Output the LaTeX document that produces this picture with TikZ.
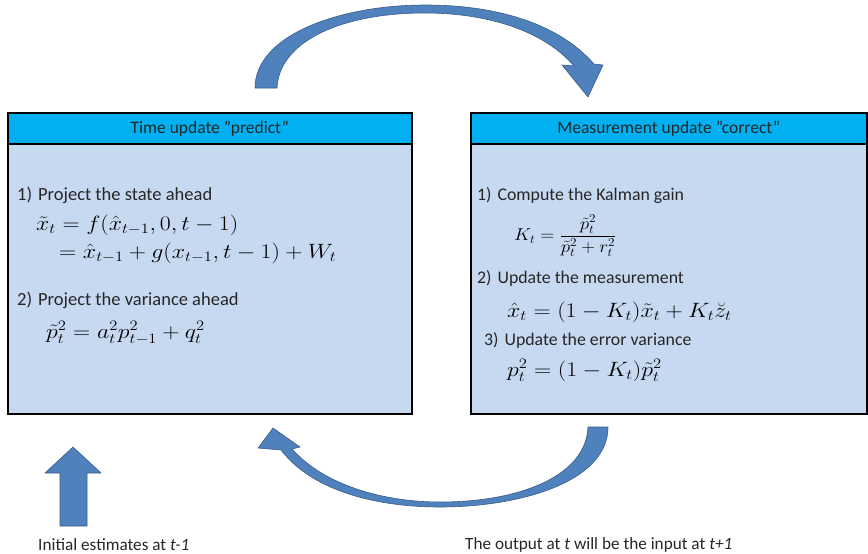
\documentclass[tikz,border=0pt]{standalone}
\usepackage{amsmath}
\usepackage{fontspec}
\setmainfont{Carlito}
\definecolor{headblue}{RGB}{0,176,240}
\definecolor{bodyblue}{RGB}{198,217,241}
\definecolor{arrowblue}{RGB}{79,129,189}
\definecolor{arrowedge}{RGB}{56,93,138}
\newcommand{\wideq}[1]{\scalebox{1.15}[1]{#1}}
\begin{document}
\begin{tikzpicture}[x=1pt,y=-1pt,
  box/.style={draw=black,line width=1.6pt,fill=bodyblue,anchor=north west,inner sep=0pt},
  headbox/.style={draw=black,line width=1.6pt,fill=headblue,anchor=north west,inner sep=0pt,
     font=\fontsize{17.5}{20}\selectfont,text=black!85},
  txt/.style={anchor=base west,inner sep=0pt,font=\fontsize{18.5}{21}\selectfont,text=black!85},
  rtxt/.style={anchor=base west,inner sep=0pt,font=\fontsize{17.8}{21}\selectfont,text=black!85},
  lab/.style={anchor=base west,inner sep=0pt,font=\fontsize{17.2}{20}\selectfont,text=black!85},
  eq/.style={anchor=base west,inner sep=0pt,font=\fontsize{20.5}{23}\selectfont},
  bigarrow/.style={fill=arrowblue,draw=arrowedge,line width=0.6pt,line join=round}]
\useasboundingbox (0,0) rectangle (868,554);
% boxes
\node (lbox) [box,minimum width=404pt,minimum height=301pt] at (7,112) {};
\node (lhead) [headbox,minimum width=404pt,minimum height=31pt] at (7,112) {Time update ”predict”};
\node (rbox) [box,minimum width=396pt,minimum height=301pt] at (470,112) {};
\node (rhead) [headbox,minimum width=396pt,minimum height=31pt] at (470,112) {Measurement update ”correct”};
% left content
\node (l1) [txt] at (17,200) {1)\hspace{6pt}Project the state ahead};
\node (le1) [eq] at (36,230) {\wideq{$\tilde{x}_t = f(\hat{x}_{t-1},0,t-1)$}};
\node (le2) [eq] at (59,258) {\wideq{$= \hat{x}_{t-1} + g(x_{t-1},t-1) + W_t$}};
\node (l2) [txt] at (17,305) {2)\hspace{6pt}Project the variance ahead};
\node (le3) [eq] at (46,338) {\wideq{$\tilde{p}_t^2 = a_t^2 p_{t-1}^2 + q_t^2$}};
% right content
\node (r1) [rtxt] at (477,200) {1)\hspace{6pt}Compute the Kalman gain};
\node (re1) [anchor=west,inner sep=0pt,font=\fontsize{17}{19}\selectfont] at (514,236) {\scalebox{1.1}[1]{$K_t = \dfrac{\tilde{p}_t^2}{\tilde{p}_t^2 + r_t^2}$}};
\node (r2) [rtxt] at (477,283) {2)\hspace{6pt}Update the measurement};
\node (re2) [eq] at (507,317) {\wideq{$\hat{x}_t = (1-K_t)\tilde{x}_t + K_t\breve{z}_t$}};
\node (r3) [rtxt] at (484,345) {3)\hspace{6pt}Update the error variance};
\node (re3) [eq] at (507,376) {\wideq{$p_t^2 = (1-K_t)\tilde{p}_t^2$}};
% top curved arrow
\path[bigarrow] (255,88) .. controls (255,35) and (340,5) .. (425,5)
  .. controls (500,5) and (560,25) .. (594,64)
  -- (603,65) -- (588,97) -- (562,65) -- (574,66)
  .. controls (545,32) and (490,13) .. (425,13)
  .. controls (340,13) and (279,42) .. (277,88) -- cycle;
% bottom curved arrow
\path[bigarrow] (608,427) .. controls (608,482) and (520,507) .. (440,507)
  .. controls (370,507) and (310,488) .. (281,450)
  -- (258,448) -- (273,428) -- (300,447) -- (292,449)
  .. controls (325,486) and (385,502) .. (440,502)
  .. controls (520,502) and (586,476) .. (588,427) -- cycle;
% up arrow
\path[bigarrow] (60,526) -- (60,473) -- (45,473) -- (73,447) -- (101,473) -- (87,473) -- (87,526) -- cycle;
% bottom labels
\node (lab1) [lab] at (38,550) {Initial estimates at \textit{t-1}};
\node (lab2) [lab] at (465,549) {The output at \textit{t} will be the input at \textit{t+1}};
\end{tikzpicture}
\end{document}
